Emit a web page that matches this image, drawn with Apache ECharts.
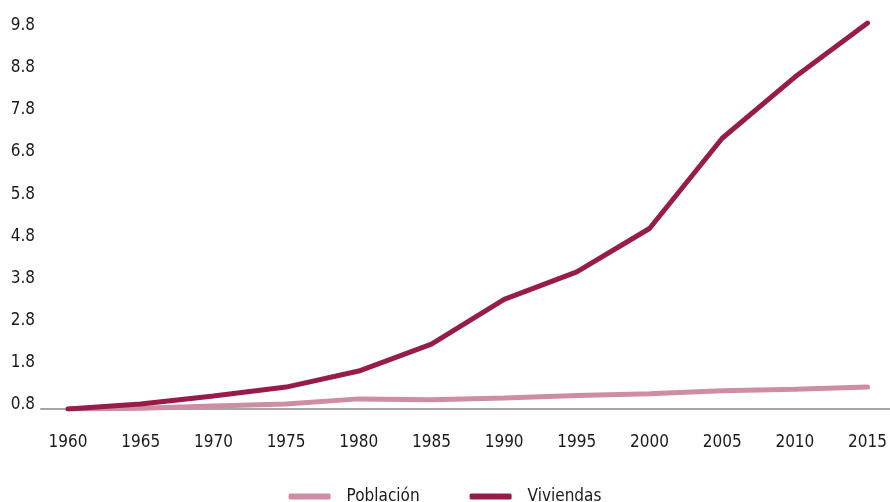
<!DOCTYPE html>
<html>
<head>
<meta charset="utf-8">
<script src="https://cdn.jsdelivr.net/npm/echarts@6/dist/echarts.min.js"></script>
<style>
  html, body { margin: 0; padding: 0; background: #fff; }
  #main { width: 890px; height: 502px; }
</style>
</head>
<body>
<div id="main"></div>
<script>
var years = [1960, 1965, 1970, 1975, 1980, 1985, 1990, 1995, 2000, 2005, 2010, 2015];
var poblacion = [0.8, 0.82, 0.87, 0.92, 1.04, 1.02, 1.06, 1.12, 1.16, 1.23, 1.27, 1.32];
var viviendas = [0.8, 0.92, 1.11, 1.32, 1.70, 2.34, 3.40, 4.05, 5.08, 7.22, 8.67, 9.95];
var yTicks = [0.8, 1.8, 2.8, 3.8, 4.8, 5.8, 6.8, 7.8, 8.8, 9.8];

var fontName = '"DejaVu Sans Condensed", "Liberation Sans", sans-serif';

function pairs(vals) {
  var out = [];
  for (var i = 0; i < years.length; i++) {
    out.push([years[i], vals[i]]);
  }
  return out;
}

var chart = echarts.init(document.getElementById('main'));

var option = {
  animation: false,
  backgroundColor: '#fff',
  textStyle: { fontFamily: fontName },
  grid: {
    left: 41,
    right: 0,
    top: 21,
    bottom: 93
  },
  legend: {
    top: 483,
    left: 'center',
    itemWidth: 42,
    itemHeight: 6,
    itemGap: 50,
    icon: 'roundRect',
    textStyle: {
      fontFamily: fontName,
      fontSize: 17,
      color: '#1a1a1a',
      padding: [0, 0, 0, 11]
    },
    data: ['Población', 'Viviendas']
  },
  xAxis: {
    type: 'value',
    min: 1958.14,
    max: 2016.51,
    splitLine: { show: false },
    axisTick: { show: false },
    axisLine: { lineStyle: { color: '#a6a6a6', width: 2 } },
    axisLabel: {
      customValues: years,
      formatter: function (v) { return String(v); },
      margin: 25,
      fontFamily: fontName,
      fontSize: 17,
      color: '#1a1a1a'
    }
  },
  yAxis: {
    type: 'value',
    min: 0.8,
    max: 10.0,
    interval: 1,
    splitLine: { show: false },
    axisLine: { show: false },
    axisTick: { show: false },
    axisLabel: {
      customValues: yTicks,
      formatter: function (v) { return v.toFixed(1); },
      margin: 6,
      verticalAlign: 'bottom',
      lineHeight: 8,
      fontFamily: fontName,
      fontSize: 17,
      color: '#1a1a1a'
    }
  },
  series: [
    {
      name: 'Población',
      type: 'line',
      data: pairs(poblacion),
      symbol: 'none',
      color: '#cf8ca5',
      lineStyle: { width: 5, color: '#cf8ca5', cap: 'round' }
    },
    {
      name: 'Viviendas',
      type: 'line',
      data: pairs(viviendas),
      symbol: 'none',
      color: '#981c4a',
      lineStyle: { width: 5, color: '#981c4a', cap: 'round' }
    }
  ]
};

chart.setOption(option);
</script>
</body>
</html>
